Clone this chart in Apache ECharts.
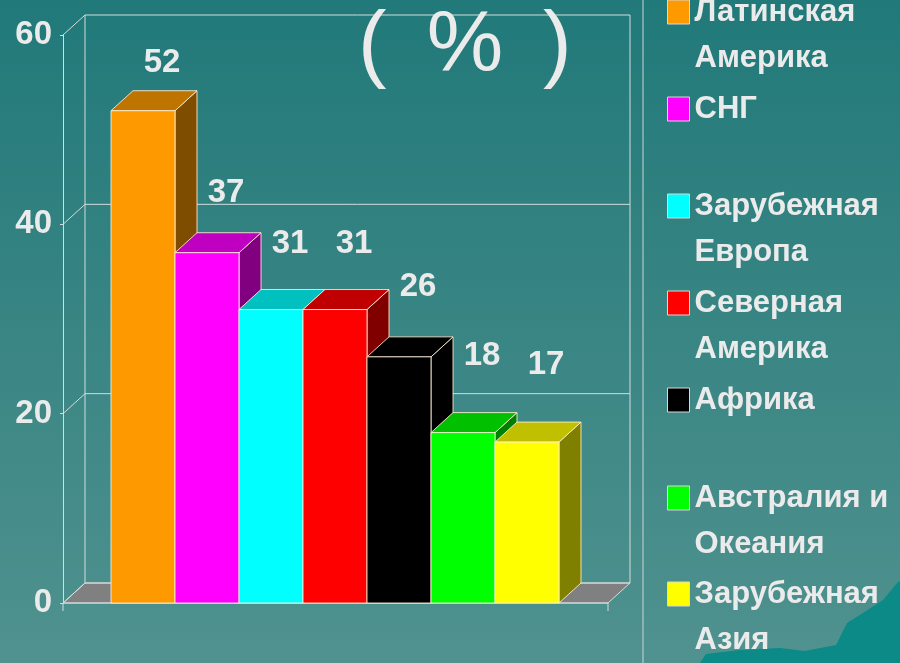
<!DOCTYPE html>
<html>
<head>
<meta charset="utf-8">
<style>
  html, body { margin: 0; padding: 0; }
  #chart { width: 900px; height: 663px; }
</style>
<script src="https://cdn.jsdelivr.net/npm/echarts@6.0.0/dist/echarts.min.js"></script>
</head>
<body>
<div id="chart"></div>
<script>
// данные
const regions = ['Латинская\nАмерика', 'СНГ', 'Зарубежная\nЕвропа', 'Северная\nАмерика', 'Африка', 'Австралия и\nОкеания', 'Зарубежная\nАзия']
const values = [52, 37, 31, 31, 26, 18, 17]
const yTicks = [0, 20, 40, 60]

// цвета граней: лицевая, верхняя, боковая
const frontColors = ['#FF9900', '#FF00FF', '#00FFFF', '#FF0000', '#000000', '#00FF00', '#FFFF00']
const topColors = ['#C07400', '#C000C0', '#00C0C0', '#C00000', '#000000', '#00C000', '#C0C000']
const sideColors = ['#7F4D00', '#800080', '#008080', '#800000', '#000000', '#008000', '#808000']

const DX = 22, DY = -20 // глубина 3D
const TEXT = '#ebebeb'
const GRID = '#d4dcdc'
const EDGE = 'rgba(255,240,215,0.85)'
const FONT = "'Liberation Sans', Arial, sans-serif"

const chart = echarts.init(document.getElementById('chart'))

function renderFrame(params, api) {
  const v = api.value(1)
  const a = api.coord([0, v])
  const b = api.coord([1, v])
  const line = { stroke: GRID, lineWidth: 1 }
  const kids = []
  if (params.dataIndex === 0) {
    const top = yTicks[yTicks.length - 1]
    const ta = api.coord([0, top])
    const tb = api.coord([1, top])
    kids.push(
      { type: 'polygon', shape: { points: [a, [a[0] + DX, a[1] + DY], [b[0] + DX, b[1] + DY], b] }, style: { fill: '#808080', stroke: GRID, lineWidth: 1 } },
      { type: 'line', shape: { x1: a[0] + DX, y1: a[1] + DY, x2: ta[0] + DX, y2: ta[1] + DY }, style: line },
      { type: 'line', shape: { x1: b[0] + DX, y1: b[1] + DY, x2: tb[0] + DX, y2: tb[1] + DY }, style: line },
      { type: 'line', shape: { x1: a[0], y1: a[1], x2: b[0], y2: b[1] }, style: line },
      { type: 'line', shape: { x1: a[0], y1: a[1], x2: a[0], y2: a[1] + 8 }, style: line },
      { type: 'line', shape: { x1: b[0], y1: b[1], x2: b[0], y2: b[1] + 8 }, style: line }
    )
  }
  kids.push(
    { type: 'line', shape: { x1: a[0], y1: a[1], x2: a[0] + DX, y2: a[1] + DY }, style: line },
    { type: 'line', shape: { x1: a[0] + DX, y1: a[1] + DY, x2: b[0] + DX, y2: b[1] + DY }, style: line }
  )
  return { type: 'group', children: kids }
}

function bar3d(front, top, side) {
  return function (params, api) {
    const x = api.value(0), v = api.value(1)
    const pt = api.coord([x, v])
    const pb = api.coord([x, 0])
    // подпись чуть выше столбика, как в исходной диаграмме
    const pl = api.coord([x, v * 0.91 + 9.7])
    const w = api.size([1, 0])[0]
    const l = pt[0] - w / 2, r = pt[0] + w / 2
    const yt = pt[1], yb = pb[1]
    const edge = { stroke: EDGE, lineWidth: 1 }
    return {
      type: 'group',
      children: [
        { type: 'polygon', shape: { points: [[r, yt], [r + DX, yt + DY], [r + DX, yb + DY], [r, yb]] }, style: Object.assign({ fill: side }, edge) },
        { type: 'polygon', shape: { points: [[l, yt], [l + DX, yt + DY], [r + DX, yt + DY], [r, yt]] }, style: Object.assign({ fill: top }, edge) },
        { type: 'rect', shape: { x: l, y: yt, width: w, height: yb - yt }, style: Object.assign({ fill: front }, edge) },
        {
          type: 'text', x: pt[0] + 19, y: pl[1],
          style: { text: String(v), fill: TEXT, fontSize: 33, fontWeight: 'bold', fontFamily: FONT, align: 'center', verticalAlign: 'middle' }
        }
      ]
    }
  }
}

// отдельная легенда на каждую запись: первая строка на уровне значка
const legendCenters = [10, 107, 204, 301, 398, 496, 592]
const legends = regions.map((name, i) => {
  const twoLines = name.indexOf('\n') >= 0
  return {
    data: [name],
    formatter: n => (twoLines ? '\n' + n : n),
    left: 667,
    top: legendCenters[i] + 2 - (twoLines ? 69 : 23),
    padding: 0,
    orient: 'vertical',
    icon: 'rect',
    itemWidth: 22,
    itemHeight: 24,
    selectedMode: false,
    itemStyle: { borderColor: '#d8d8d8', borderWidth: 1 },
    textStyle: { color: TEXT, fontSize: 31, fontWeight: 'bold', fontFamily: FONT, lineHeight: 46 }
  }
})

const option = {
  animation: false,
  backgroundColor: {
    type: 'linear', x: 0, y: 0, x2: 0, y2: 1,
    colorStops: [{ offset: 0, color: '#217979' }, { offset: 1, color: '#50928f' }]
  },
  title: {
    text: '{p|(}{s|  }{p|%}{s|  }{p|)}',
    left: 358,
    top: 4,
    padding: 0,
    textStyle: {
      rich: {
        p: { color: TEXT, fontSize: 86, fontFamily: FONT, fontWeight: 'normal' },
        s: { fontSize: 72, fontFamily: FONT }
      }
    }
  },
  legend: legends,
  graphic: [
    { type: 'line', shape: { x1: 643, y1: 0, x2: 643, y2: 663 }, style: { stroke: '#c8d6d4', lineWidth: 1 } },
    {
      type: 'polygon', z: -1,
      shape: { points: [[700, 663], [706, 654], [740, 650], [780, 648], [805, 651], [836, 645], [847, 623], [863, 613], [883, 600], [897, 583], [900, 581], [900, 663]] },
      style: { fill: '#0b8a87' }
    }
  ],
  grid: [
    { left: 63, right: 292, top: 35, bottom: 60 },
    { left: 111, right: 341, top: 35, bottom: 60 }
  ],
  xAxis: [
    { type: 'value', gridIndex: 0, min: 0, max: 1, show: false },
    { type: 'category', gridIndex: 1, data: regions, show: false }
  ],
  yAxis: [
    {
      type: 'value', gridIndex: 0, min: 0, max: 60, interval: 20,
      axisLine: { show: true, lineStyle: { color: GRID } },
      axisTick: { show: true, length: 3, lineStyle: { color: GRID } },
      splitLine: { show: false },
      axisLabel: { color: TEXT, fontSize: 33, fontWeight: 'bold', fontFamily: FONT, margin: 11 }
    },
    { type: 'value', gridIndex: 1, min: 0, max: 60, show: false }
  ],
  series: [
    {
      type: 'custom', name: 'frame', xAxisIndex: 0, yAxisIndex: 0, z: 1, silent: true,
      data: yTicks.map(v => [0, v]),
      renderItem: renderFrame
    }
  ].concat(regions.map((name, i) => ({
    type: 'custom', name: name, xAxisIndex: 1, yAxisIndex: 1, z: 3,
    itemStyle: { color: frontColors[i] },
    data: [[i, values[i]]],
    renderItem: bar3d(frontColors[i], topColors[i], sideColors[i])
  })))
}

chart.setOption(option)
</script>
</body>
</html>
